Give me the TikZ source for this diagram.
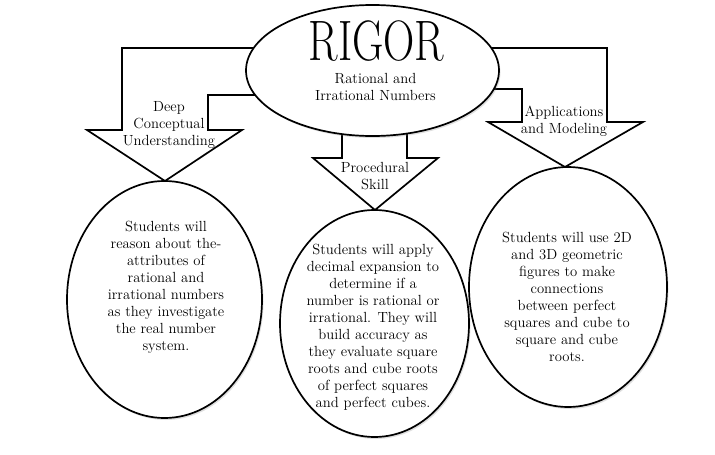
\documentclass[tikz,border=0pt]{standalone}
\usepackage{tikz}
\usetikzlibrary{positioning,calc,shapes.geometric,shadows}

\begin{document}
\begin{tikzpicture}[x=1pt,y=-1pt,
		oval/.style={draw=black, line width=1.7pt, ellipse, fill=white, inner sep=0pt, drop shadow={opacity=0.25, shadow xshift=1.5pt, shadow yshift=-2pt}},
		blockarrow/.style={draw=black, line width=1.7pt, line join=miter},
		txt/.style={align=center, inner sep=0pt, font=\fontsize{14.67}{17}\selectfont}]
		\useasboundingbox (0,0) rectangle (715,455);
		
		\draw[blockarrow] (300,48)--(122,48)--(122,130)--(87,130)--(165,181)--(242,130)--(208,130)--(208,95)--(300,95);
		\draw[blockarrow] (342,120)--(342,158)--(313,158)--(375,210)--(438,158)--(407,158)--(407,120);
		\draw[blockarrow] (450,48)--(607,48)--(607,122)--(643,122)--(565,167)--(488,122)--(522,122)--(522,89)--(450,89);
		
		\node[oval, minimum width=253pt, minimum height=131pt] (rigor) at (372.5,70.5) {};
		\node[inner sep=0pt, shift={(4,-29)}] (title) at (rigor.center) {\scalebox{0.76}[1]{\fontsize{57}{57}\selectfont RIGOR}};
		\node[txt, shift={(3,16.5)}] (topic) at (rigor.center) {Rational and\\Irrational Numbers};
		
		\node[txt] (deep) at (169,124.5) {Deep\\Conceptual\\Understanding};
		\node[txt] (skill) at (375,176.5) {Procedural\\Skill};
		\node[txt] (apps) at (564,121.5) {Applications\\and Modeling};
		
		\node[oval, minimum width=195pt, minimum height=237pt] (left) at (164.5,299.5) {};
		\node[oval, minimum width=189pt, minimum height=227pt] (mid) at (374.5,323.5) {};
		\node[oval, minimum width=198pt, minimum height=240pt] (right) at (568,287) {};
		
		\node[txt, shift={(1.5,-12)}] (lefttxt) at (left.center) {Students will\\reason about the-\\attributes of\\rational and\\irrational numbers\\as they investigate\\the real number\\system.};
		\node[txt, shift={(-1.5,3.5)}] (midtxt) at (mid.center) {Students will apply\\decimal expansion to\\determine if a\\number is rational or\\irrational. They will\\build accuracy as\\they evaluate square\\roots and cube roots\\of perfect squares\\and perfect cubes.};
		\node[txt, shift={(-1,10)}] (righttxt) at (right.center) {Students will use 2D\\and 3D geometric\\figures to make\\connections\\between perfect\\squares and cube to\\square and cube\\roots.};
	\end{tikzpicture}
\end{document}
